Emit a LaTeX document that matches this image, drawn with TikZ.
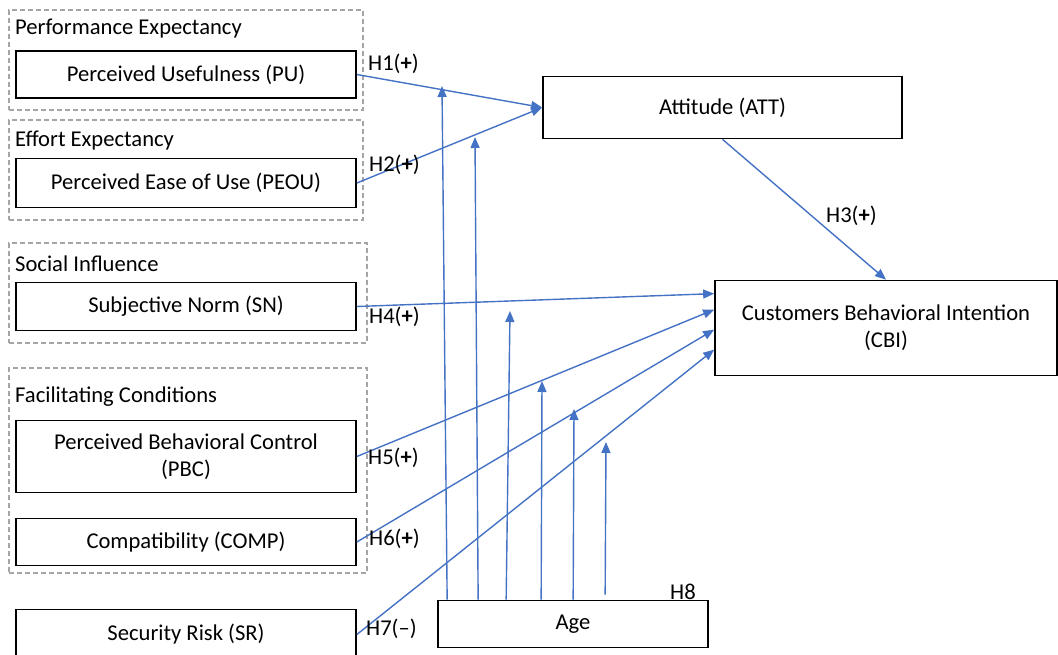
\documentclass[tikz,border=0pt]{standalone}
\usepackage{fontspec}
\setmainfont{Carlito}
\usetikzlibrary{arrows.meta}
\definecolor{lnblue}{RGB}{68,114,196}
\definecolor{grpgray}{RGB}{165,165,165}
\begin{document}
\begin{tikzpicture}[x=1pt,y=-1pt,
  txt/.style={font=\fontsize{22.6}{27}\selectfont},
  box/.style={txt,draw=black,line width=1.7pt,inner sep=0pt,align=center},
  grp/.style={draw=grpgray,dash pattern=on 5pt off 3pt,line width=1.1pt,inner sep=0pt},
  gtitle/.style={txt,anchor=west,inner sep=0pt},
  hlab/.style={txt,anchor=west,inner sep=0pt},
  arr/.style={draw=lnblue,line width=1.4pt,-{Triangle[length=11pt,width=9pt]}},
  mod/.style={draw=lnblue,line width=1.4pt,-{Triangle[length=11pt,width=9pt]}}]
\useasboundingbox (0,0) rectangle (1058,655);
% groups
\node[grp,minimum width=354pt,minimum height=100pt] (gPE) at (186,60) {};
\node[grp,minimum width=354pt,minimum height=100pt] (gEE) at (186,170) {};
\node[grp,minimum width=358pt,minimum height=100pt] (gSI) at (188,293) {};
\node[grp,minimum width=358pt,minimum height=205pt] (gFC) at (188,470.5) {};
\node[gtitle] (tPE) at (15,28.5) {Performance Expectancy};
\node[gtitle] (tEE) at (15,140.5) {Effort Expectancy};
\node[gtitle] (tSI) at (15,263.5) {Social Influence};
\node[gtitle] (tFC) at (15,396.5) {Facilitating Conditions};
% construct boxes
\node[box,minimum width=340pt,minimum height=47pt] (PU) at (186,74.5) {Perceived Usefulness (PU)};
\node[box,minimum width=340pt,minimum height=49pt] (PEOU) at (186,183) {Perceived Ease of Use (PEOU)};
\node[box,minimum width=340pt,minimum height=48pt] (SN) at (186,306.5) {Subjective Norm (SN)};
\node[box,minimum width=340pt,minimum height=72pt] (PBC) at (186,456.5) {Perceived Behavioral Control\\(PBC)};
\node[box,minimum width=340pt,minimum height=47pt] (COMP) at (186,542) {Compatibility (COMP)};
\node[box,minimum width=340pt,minimum height=50pt] (SR) at (186,634.5) {Security Risk (SR)};
\node[box,minimum width=359pt,minimum height=62pt] (ATT) at (722.5,107.5) {Attitude (ATT)};
\node[box,minimum width=342pt,minimum height=95pt] (CBI) at (886,328) {Customers Behavioral Intention\\(CBI)};
\node[box,minimum width=270pt,minimum height=47pt] (AGE) at (573,624) {Age};
% main paths
\draw[arr] (PU.east) -- (ATT.west);
\draw[arr] (PEOU.east) -- (ATT.west);
\draw[arr] (ATT.south) -- (CBI.north);
\draw[arr] (SN.east) -- ([yshift=-14pt]CBI.north west);
\draw[arr] (PBC.east) -- ([yshift=-30pt]CBI.north west);
\draw[arr] (COMP.east) -- ([yshift=-50pt]CBI.north west);
\draw[arr] (SR.east) -- ([yshift=-70pt]CBI.north west);
% moderation arrows
\coordinate (m1) at (442,86);
\coordinate (m2) at (475,137);
\coordinate (m3) at (510,311);
\coordinate (m4) at (542,381);
\coordinate (m5) at (574,409);
\coordinate (m6) at (606,442);
\draw[mod] ([xshift=10pt]AGE.north west) -- (m1);
\draw[mod] ([xshift=41pt]AGE.north west) -- (m2);
\draw[mod] ([xshift=69pt]AGE.north west) -- (m3);
\draw[mod] ([xshift=104pt]AGE.north west) -- (m4);
\draw[mod] ([xshift=136pt]AGE.north west) -- (m5);
\draw[mod] ([xshift=168pt,yshift=5pt]AGE.north west) -- (m6);
% labels
\node[hlab] (h1) at (368,63.5) {H1(\textbf{+})};
\node[hlab] (h2) at (369,164.5) {H2(\textbf{+})};
\node[hlab] (h3) at (826,215.5) {H3(\textbf{+})};
\node[hlab] (h4) at (369,316.5) {H4(\textbf{+})};
\node[hlab] (h5) at (368,457.5) {H5(\textbf{+})};
\node[hlab] (h6) at (369,538.5) {H6(\textbf{+})};
\node[hlab] (h7) at (366,628.5) {H7(–)};
\node[hlab] (h8) at (670,591.5) {H8};
\end{tikzpicture}
\end{document}
